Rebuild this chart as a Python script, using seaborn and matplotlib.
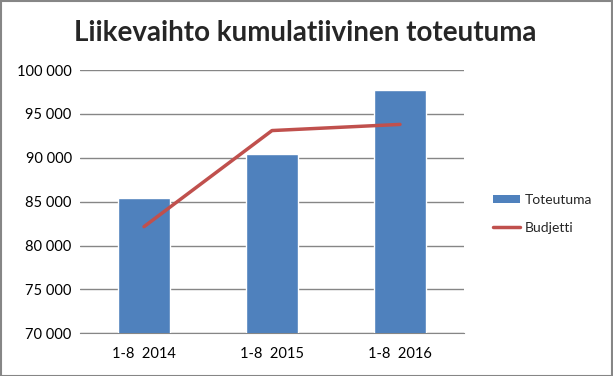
import matplotlib
matplotlib.use("Agg")
import matplotlib.pyplot as plt
import seaborn as sns
import pandas as pd
from matplotlib.ticker import FuncFormatter
from matplotlib.patches import Rectangle
from matplotlib.lines import Line2D
from matplotlib.patches import Patch

categories = ["1-8  2014", "1-8  2015", "1-8  2016"]
toteutuma = [85400, 90400, 97700]
budjetti = [82150, 93100, 93800]
title = "Liikevaihto kumulatiivinen toteutuma"

sns.set_style("white")
plt.rcParams['font.family'] = ['Lato', 'DejaVu Sans']

df = pd.DataFrame({"cat": categories, "Toteutuma": toteutuma, "Budjetti": budjetti})

fig = plt.figure(figsize=(6.13, 3.76), dpi=100)
ax = fig.add_axes([80/613, 1-333.3/376, 384/613, 263.3/376])

sns.barplot(data=df, x="cat", y="Toteutuma", color="#4F81BD", width=0.4,
            saturation=1, ax=ax, zorder=3)
sns.lineplot(x=list(range(len(categories))), y=budjetti, color="#C0504D",
             linewidth=2.5, ax=ax, zorder=4)

ax.set_ylim(70000, 100000)
ax.set_xlim(-0.5, 2.5)
ax.set_yticks(range(70000, 100001, 5000))
ax.yaxis.set_major_formatter(FuncFormatter(lambda v, p: f"{int(v):,}".replace(",", " ")))
ax.grid(axis="y", color="#868686", linewidth=1, zorder=0)
ax.set_axisbelow(True)
for s in ["left", "right", "top"]:
    ax.spines[s].set_visible(False)
ax.spines["bottom"].set_color("#868686")
ax.tick_params(axis="both", length=0, labelsize=10.5, colors="black", pad=6)
ax.tick_params(axis="x", pad=10)
ax.set_xlabel("")
ax.set_ylabel("")

fig.text(305/613, 1-33/376, title, ha="center", va="center", fontsize=20,
         fontweight="bold")

handles = [Patch(facecolor="#4F81BD", edgecolor="none"),
           Line2D([0], [0], color="#C0504D", linewidth=2.5)]
fig.legend(handles, ["Toteutuma", "Budjetti"], loc="center left",
           bbox_to_anchor=(480/613, 1-214/376), frameon=False, fontsize=10,
           handlelength=2.0, handleheight=0.5, labelspacing=1.1, handletextpad=0.3)

fig.patches.append(Rectangle((0.001, 0.001), 0.997, 0.997, transform=fig.transFigure,
                             fill=False, edgecolor="#868686", linewidth=1.5))

fig.savefig("out.png", dpi=100)
